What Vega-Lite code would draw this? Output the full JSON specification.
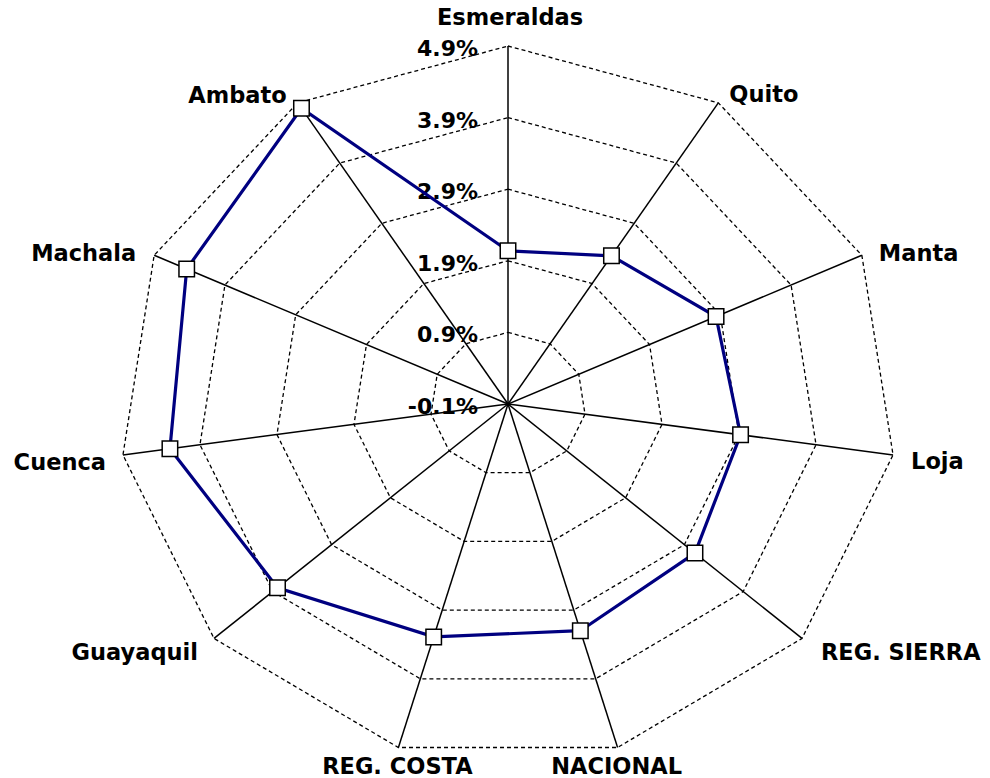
{
  "$schema": "https://vega.github.io/schema/vega-lite/v6.json",
  "width": 778,
  "height": 716,
  "autosize": "none",
  "padding": {"left": 119, "top": 46, "right": 93, "bottom": 16},
  "background": "white",
  "config": {"view": {"stroke": null}},
  "datasets": {
    "series": [
      {"cat": "Esmeraldas", "i": 0, "value": 2.04},
      {"cat": "Quito", "i": 1, "value": 2.36},
      {"cat": "Manta", "i": 2, "value": 2.84},
      {"cat": "Loja", "i": 3, "value": 2.92},
      {"cat": "REG. SIERRA", "i": 4, "value": 3.08},
      {"cat": "NACIONAL", "i": 5, "value": 3.20},
      {"cat": "REG. COSTA", "i": 6, "value": 3.29},
      {"cat": "Guayaquil", "i": 7, "value": 3.82},
      {"cat": "Cuenca", "i": 8, "value": 4.29},
      {"cat": "Machala", "i": 9, "value": 4.44},
      {"cat": "Ambato", "i": 10, "value": 4.81}
    ],
    "rings": [
      {"level": 0.9, "i": [0, 1, 2, 3, 4, 5, 6, 7, 8, 9, 10]},
      {"level": 1.9, "i": [0, 1, 2, 3, 4, 5, 6, 7, 8, 9, 10]},
      {"level": 2.9, "i": [0, 1, 2, 3, 4, 5, 6, 7, 8, 9, 10]},
      {"level": 3.9, "i": [0, 1, 2, 3, 4, 5, 6, 7, 8, 9, 10]},
      {"level": 4.9, "i": [0, 1, 2, 3, 4, 5, 6, 7, 8, 9, 10]}
    ],
    "ticks": [
      {"level": -0.1},
      {"level": 0.9},
      {"level": 1.9},
      {"level": 2.9},
      {"level": 3.9},
      {"level": 4.9}
    ]
  },
  "encoding": {
    "x": {"field": "px", "type": "quantitative", "scale": {"domain": [-5, 5], "nice": false, "zero": false}, "axis": null},
    "y": {"field": "py", "type": "quantitative", "scale": {"domain": [-5, 5], "nice": false, "zero": false}, "axis": null}
  },
  "layer": [
    {
      "data": {"name": "rings"},
      "transform": [
        {"flatten": ["i"]},
        {"calculate": "datum.i * 2 * PI / 11", "as": "theta"},
        {"calculate": "(datum.level + 0.1) * sin(datum.theta)", "as": "px"},
        {"calculate": "(datum.level + 0.1) * cos(datum.theta)", "as": "py"}
      ],
      "mark": {"type": "line", "interpolate": "linear-closed", "color": "black", "strokeWidth": 1.3, "strokeDash": [4, 3]},
      "encoding": {
        "detail": {"field": "level", "type": "nominal"},
        "order": {"field": "i", "type": "quantitative"}
      }
    },
    {
      "data": {"name": "series"},
      "transform": [
        {"calculate": "datum.i * 2 * PI / 11", "as": "theta"},
        {"calculate": "5 * sin(datum.theta)", "as": "px"},
        {"calculate": "5 * cos(datum.theta)", "as": "py"}
      ],
      "mark": {"type": "rule", "color": "black", "strokeWidth": 1.5},
      "encoding": {
        "x2": {"datum": 0},
        "y2": {"datum": 0}
      }
    },
    {
      "data": {"name": "ticks"},
      "transform": [
        {"calculate": "0", "as": "px"},
        {"calculate": "datum.level + 0.1", "as": "py"},
        {"calculate": "datum.level + '%'", "as": "label"}
      ],
      "mark": {"type": "text", "align": "right", "baseline": "middle", "dx": -30, "dy": 3, "font": "DejaVu Sans", "fontWeight": "bold", "fontSize": 22, "color": "black"},
      "encoding": {"text": {"field": "label", "type": "nominal"}}
    },
    {
      "data": {"name": "series"},
      "transform": [
        {"calculate": "datum.i * 2 * PI / 11", "as": "theta"},
        {"calculate": "(datum.value + 0.1) * sin(datum.theta)", "as": "px"},
        {"calculate": "(datum.value + 0.1) * cos(datum.theta)", "as": "py"}
      ],
      "mark": {"type": "line", "interpolate": "linear-closed", "color": "#000080", "strokeWidth": 3.2},
      "encoding": {"order": {"field": "i", "type": "quantitative"}}
    },
    {
      "data": {"name": "series"},
      "transform": [
        {"calculate": "datum.i * 2 * PI / 11", "as": "theta"},
        {"calculate": "(datum.value + 0.1) * sin(datum.theta)", "as": "px"},
        {"calculate": "(datum.value + 0.1) * cos(datum.theta)", "as": "py"}
      ],
      "mark": {"type": "point", "shape": "square", "filled": true, "fill": "white", "stroke": "black", "strokeWidth": 1.5, "size": 240, "opacity": 1},
      "encoding": {}
    },
    {
      "data": {"name": "series"},
      "transform": [
        {"filter": "datum.cat == 'Esmeraldas'"},
        {"calculate": "datum.i * 2 * PI / 11", "as": "theta"},
        {"calculate": "5 * sin(datum.theta)", "as": "px"},
        {"calculate": "5 * cos(datum.theta)", "as": "py"}
      ],
      "mark": {"type": "text", "align": "center", "baseline": "middle", "dx": 2, "dy": -28, "font": "DejaVu Sans", "fontWeight": "bold", "fontSize": 22.5, "color": "black"},
      "encoding": {"text": {"field": "cat", "type": "nominal"}}
    },
    {
      "data": {"name": "series"},
      "transform": [
        {"filter": "datum.cat == 'Quito'"},
        {"calculate": "datum.i * 2 * PI / 11", "as": "theta"},
        {"calculate": "5 * sin(datum.theta)", "as": "px"},
        {"calculate": "5 * cos(datum.theta)", "as": "py"}
      ],
      "mark": {"type": "text", "align": "left", "baseline": "middle", "dx": 11, "dy": -8, "font": "DejaVu Sans", "fontWeight": "bold", "fontSize": 22.5, "color": "black"},
      "encoding": {"text": {"field": "cat", "type": "nominal"}}
    },
    {
      "data": {"name": "series"},
      "transform": [
        {"filter": "datum.cat == 'Manta'"},
        {"calculate": "datum.i * 2 * PI / 11", "as": "theta"},
        {"calculate": "5 * sin(datum.theta)", "as": "px"},
        {"calculate": "5 * cos(datum.theta)", "as": "py"}
      ],
      "mark": {"type": "text", "align": "left", "baseline": "middle", "dx": 17, "dy": -1, "font": "DejaVu Sans", "fontWeight": "bold", "fontSize": 22.5, "color": "black"},
      "encoding": {"text": {"field": "cat", "type": "nominal"}}
    },
    {
      "data": {"name": "series"},
      "transform": [
        {"filter": "datum.cat == 'Loja'"},
        {"calculate": "datum.i * 2 * PI / 11", "as": "theta"},
        {"calculate": "5 * sin(datum.theta)", "as": "px"},
        {"calculate": "5 * cos(datum.theta)", "as": "py"}
      ],
      "mark": {"type": "text", "align": "left", "baseline": "middle", "dx": 18, "dy": 7, "font": "DejaVu Sans", "fontWeight": "bold", "fontSize": 22.5, "color": "black"},
      "encoding": {"text": {"field": "cat", "type": "nominal"}}
    },
    {
      "data": {"name": "series"},
      "transform": [
        {"filter": "datum.cat == 'REG. SIERRA'"},
        {"calculate": "datum.i * 2 * PI / 11", "as": "theta"},
        {"calculate": "5 * sin(datum.theta)", "as": "px"},
        {"calculate": "5 * cos(datum.theta)", "as": "py"}
      ],
      "mark": {"type": "text", "align": "left", "baseline": "middle", "dx": 19, "dy": 15, "font": "DejaVu Sans", "fontWeight": "bold", "fontSize": 22.5, "color": "black"},
      "encoding": {"text": {"field": "cat", "type": "nominal"}}
    },
    {
      "data": {"name": "series"},
      "transform": [
        {"filter": "datum.cat == 'NACIONAL' || datum.cat == 'REG. COSTA'"},
        {"calculate": "datum.i * 2 * PI / 11", "as": "theta"},
        {"calculate": "5 * sin(datum.theta)", "as": "px"},
        {"calculate": "5 * cos(datum.theta)", "as": "py"}
      ],
      "mark": {"type": "text", "align": "center", "baseline": "middle", "dx": -1, "dy": 20, "font": "DejaVu Sans", "fontWeight": "bold", "fontSize": 22.5, "color": "black"},
      "encoding": {"text": {"field": "cat", "type": "nominal"}}
    },
    {
      "data": {"name": "series"},
      "transform": [
        {"filter": "datum.cat == 'Guayaquil'"},
        {"calculate": "datum.i * 2 * PI / 11", "as": "theta"},
        {"calculate": "5 * sin(datum.theta)", "as": "px"},
        {"calculate": "5 * cos(datum.theta)", "as": "py"}
      ],
      "mark": {"type": "text", "align": "right", "baseline": "middle", "dx": -16, "dy": 15, "font": "DejaVu Sans", "fontWeight": "bold", "fontSize": 22.5, "color": "black"},
      "encoding": {"text": {"field": "cat", "type": "nominal"}}
    },
    {
      "data": {"name": "series"},
      "transform": [
        {"filter": "datum.cat == 'Cuenca'"},
        {"calculate": "datum.i * 2 * PI / 11", "as": "theta"},
        {"calculate": "5 * sin(datum.theta)", "as": "px"},
        {"calculate": "5 * cos(datum.theta)", "as": "py"}
      ],
      "mark": {"type": "text", "align": "right", "baseline": "middle", "dx": -17, "dy": 8, "font": "DejaVu Sans", "fontWeight": "bold", "fontSize": 22.5, "color": "black"},
      "encoding": {"text": {"field": "cat", "type": "nominal"}}
    },
    {
      "data": {"name": "series"},
      "transform": [
        {"filter": "datum.cat == 'Machala'"},
        {"calculate": "datum.i * 2 * PI / 11", "as": "theta"},
        {"calculate": "5 * sin(datum.theta)", "as": "px"},
        {"calculate": "5 * cos(datum.theta)", "as": "py"}
      ],
      "mark": {"type": "text", "align": "right", "baseline": "middle", "dx": -18, "dy": -1, "font": "DejaVu Sans", "fontWeight": "bold", "fontSize": 22.5, "color": "black"},
      "encoding": {"text": {"field": "cat", "type": "nominal"}}
    },
    {
      "data": {"name": "series"},
      "transform": [
        {"filter": "datum.cat == 'Ambato'"},
        {"calculate": "datum.i * 2 * PI / 11", "as": "theta"},
        {"calculate": "5 * sin(datum.theta)", "as": "px"},
        {"calculate": "5 * cos(datum.theta)", "as": "py"}
      ],
      "mark": {"type": "text", "align": "right", "baseline": "middle", "dx": -11, "dy": -7, "font": "DejaVu Sans", "fontWeight": "bold", "fontSize": 22.5, "color": "black"},
      "encoding": {"text": {"field": "cat", "type": "nominal"}}
    }
  ]
}
